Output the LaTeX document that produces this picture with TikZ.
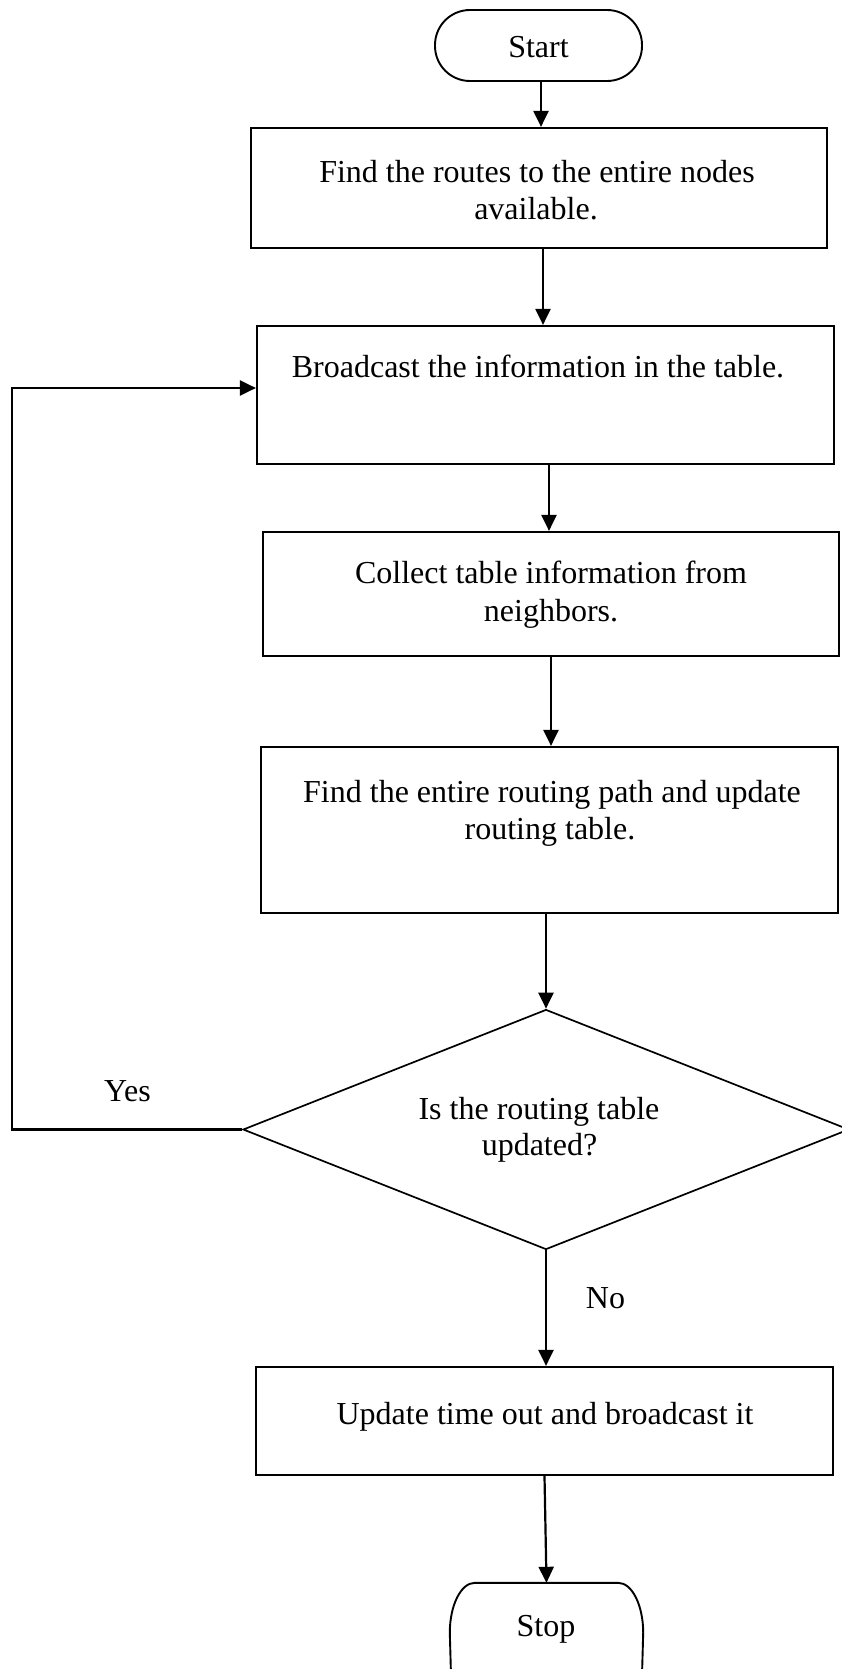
\documentclass[tikz,border=0pt]{standalone}
\usepackage{fontspec}
\setmainfont{Liberation Serif}
\usetikzlibrary{arrows.meta,shapes.geometric}
\begin{document}
\begin{tikzpicture}[x=1pt,y=-1pt,
  line cap=butt,
  box/.style={draw, line width=2.2pt, rectangle, inner sep=0pt},
  term/.style={draw, line width=1.9pt, rectangle, rounded corners=35pt, inner sep=0pt},
  termline/.style={line width=1.9pt},
  decision/.style={draw, line width=1.7pt, diamond, inner sep=0pt},
  txt/.style={font=\fontsize{32}{37}\selectfont, inner sep=0pt, anchor=base},
  arr/.style={line width=2.2pt, -{Triangle[length=16pt,width=15pt]}},
  conn/.style={line width=2.2pt}
]
\useasboundingbox (0,0) rectangle (842,1669);

% shapes
\node[term, minimum width=207pt, minimum height=71pt] (start) at (538.5,45.5) {};
\node[box, minimum width=576pt, minimum height=120pt] (b1) at (539,188) {};
\node[box, minimum width=577pt, minimum height=138pt] (b2) at (545.5,395) {};
\node[box, minimum width=576pt, minimum height=124pt] (b3) at (551,594) {};
\node[box, minimum width=577pt, minimum height=166pt] (b4) at (549.5,830) {};
\node[decision, minimum width=606pt, minimum height=240pt] (d) at (546,1129.5) {};
\node[box, minimum width=577pt, minimum height=108pt] (b5) at (544.5,1421) {};
\node[inner sep=0pt, minimum width=193pt, minimum height=120pt] (stop) at (546.5,1643) {};
\draw[termline] ([xshift=2pt]stop.south west)
  -- ([yshift=-50pt]stop.north west)
  arc[start angle=180, end angle=90, x radius=25pt, y radius=50pt]
  -- ([xshift=-25pt]stop.north east)
  arc[start angle=90, end angle=0, x radius=25pt, y radius=50pt]
  -- ([xshift=-2pt]stop.south east);

% texts
\node[txt] (tstart) at (538.5,58) {Start};
\node[txt] (t1a) at (537,183) {Find the routes to the entire nodes};
\node[txt] (t1b) at (536,220) {available.};
\node[txt] (t2) at (538,377) {Broadcast the information in the table.};
\node[txt] (t3a) at (551,583) {Collect table information from};
\node[txt] (t3b) at (551,621) {neighbors.};
\node[txt] (t4a) at (552,802) {Find the entire routing path and update};
\node[txt] (t4b) at (550,839) {routing table.};
\node[txt] (tda) at (539,1119) {Is the routing table};
\node[txt] (tdb) at (539.5,1155) {updated?};
\node[txt] (t5) at (545,1424) {Update time out and broadcast it};
\node[txt] (tstop) at (546,1636) {Stop};
\node[txt] (yes) at (127.5,1101) {Yes};
\node[txt] (no) at (605.5,1308) {No};

% connectors
\draw[arr] ([xshift=2.5pt]start.south) -- ([xshift=2.5pt]start.south |- b1.north);
\draw[arr] ([xshift=4pt]b1.south) -- ([xshift=4pt]b1.south |- b2.north);
\draw[arr] ([xshift=3.5pt]b2.south) -- ([xshift=3.5pt]b2.south |- b3.north);
\draw[arr] (b3.south) -- (b3.south |- b4.north);
\draw[arr] ([xshift=-3.5pt]b4.south) -- (d.north);
\draw[arr] (d.south) -- (d.south |- b5.north);
\draw[arr] (b5.south) -- (stop.north);
\coordinate (fb) at (12,388);
\draw[conn] (d.west) -| (fb);
\draw[arr] ([xshift=-1.1pt]fb) -- (fb -| b2.west);
\end{tikzpicture}
\end{document}
